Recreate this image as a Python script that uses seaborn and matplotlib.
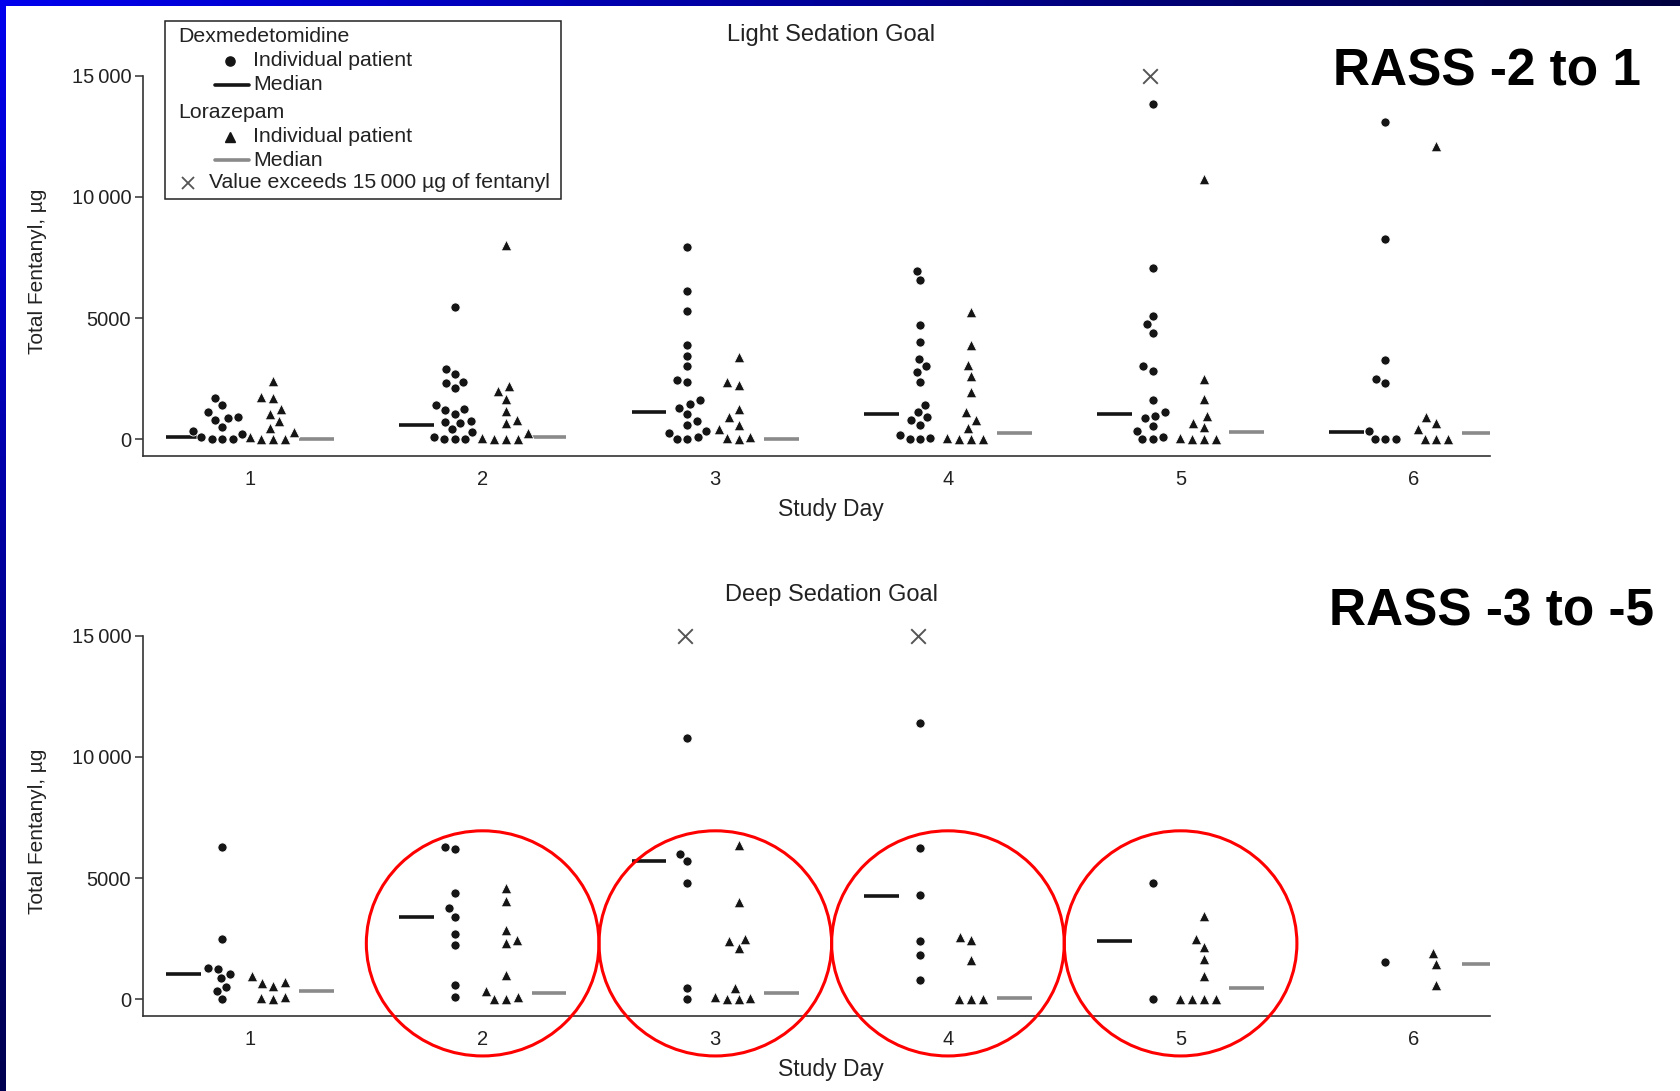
import numpy as np
import pandas as pd
import matplotlib
matplotlib.use('Agg')
import matplotlib.pyplot as plt
import seaborn as sns
from matplotlib.patches import Ellipse, Rectangle
from matplotlib.lines import Line2D
from matplotlib.colors import LinearSegmentedColormap
from matplotlib.ticker import FuncFormatter

sns.set_style('white')
plt.rcParams['font.family'] = ['Liberation Sans', 'DejaVu Sans']

days = [1, 2, 3, 4, 5, 6]

# Light sedation goal (RASS -2 to 1), total fentanyl per patient, ug
light_dex = [
    [1700, 1400, 1100, 900, 850, 800, 500, 350, 200, 100, 0, 0, 0],
    [5450, 2900, 2700, 2350, 2300, 2100, 1400, 1250, 1200, 1050, 750, 700, 650, 400, 300, 100, 0, 0, 0],
    [7950, 6100, 5300, 3900, 3450, 3000, 2450, 2350, 1600, 1450, 1300, 1050, 750, 600, 350, 250, 100, 0, 0],
    [6950, 6550, 4700, 4000, 3300, 3000, 2750, 2350, 1400, 1100, 900, 800, 600, 150, 50, 0, 0],
    [13850, 7050, 5100, 4750, 4400, 3000, 2800, 1600, 1100, 950, 850, 550, 350, 100, 0, 0],
    [13100, 8250, 3250, 2500, 2300, 350, 0, 0, 0],
]
light_lor = [
    [2400, 1750, 1700, 1250, 1050, 750, 450, 300, 100, 0, 0, 0],
    [8000, 2200, 2000, 1650, 1150, 800, 650, 250, 50, 0, 0, 0],
    [3400, 2350, 2250, 1250, 900, 600, 400, 100, 50, 0],
    [5250, 3900, 3050, 2600, 1950, 1100, 800, 450, 50, 0, 0, 0],
    [10750, 2500, 1650, 950, 650, 500, 50, 0, 0, 0],
    [12100, 900, 650, 400, 0, 0, 0],
]
light_dex_median = [100, 600, 1100, 1050, 1050, 300]
light_lor_median = [0, 100, 0, 250, 300, 250]
light_over = [5]          # days with a dexmedetomidine value > 15000

# Deep sedation goal (RASS -3 to -5)
deep_dex = [
    [6300, 2500, 1300, 1250, 1050, 850, 500, 350, 0],
    [6300, 6200, 4400, 3750, 3400, 2700, 2250, 600, 100],
    [10800, 6000, 5700, 4800, 450, 0],
    [11400, 6250, 4300, 2400, 1800, 800],
    [4800, 0],
    [1550],
]
deep_lor = [
    [950, 700, 650, 550, 100, 50, 0],
    [4600, 4050, 2850, 2450, 2300, 1000, 350, 100, 0, 0],
    [6350, 4000, 2500, 2400, 2100, 450, 100, 50, 0, 0],
    [2550, 2450, 1600, 0, 0, 0],
    [3450, 2500, 2150, 1650, 950, 0, 0, 0, 0],
    [1900, 1450, 600],
]
deep_dex_median = [1050, 3400, 5700, 4250, 2400, np.nan]
deep_lor_median = [330, 250, 250, 50, 450, 1450]
deep_over = [3, 4]
highlight_days = [2, 3, 4, 5]

W, H = 1681, 1091
fig = plt.figure(figsize=(W / 100, H / 100), dpi=100)


def long_table(groups, offset):
    rows = [(d + offset, v) for d, vals in zip(days, groups) for v in vals]
    return pd.DataFrame(rows, columns=['pos', 'fentanyl'])


def fmt(v, pos):
    v = int(round(v))
    return '{:,}'.format(v).replace(',', '\u2009') if v >= 10000 else str(v)


def panel(ax, dex, lor, dex_med, lor_med, over, title):
    ax.set_xlim(0.54, 6.33)
    ax.set_ylim(-700, 15700)
    sns.swarmplot(data=long_table(dex, -0.12), x='pos', y='fentanyl', native_scale=True,
                  orient='x', marker='o', color='#151515', size=6.6, linewidth=0.6,
                  edgecolor='white', ax=ax, zorder=3)
    sns.swarmplot(data=long_table(lor, 0.10), x='pos', y='fentanyl', native_scale=True,
                  orient='x', marker='^', color='#151515', size=7.6, linewidth=0.6,
                  edgecolor='white', ax=ax, zorder=3)
    d = np.array(days, dtype=float)
    ax.hlines(dex_med, d - 0.36, d - 0.21, color='#151515', lw=2.6, zorder=2)
    ax.hlines(lor_med, d + 0.21, d + 0.36, color='#8a8a8a', lw=2.6, zorder=2)
    sns.scatterplot(x=np.array(over) - 0.13, y=[15000] * len(over), marker='x', s=110,
                    color='#555555', linewidth=1.4, ax=ax, zorder=4)
    ax.set_xlim(0.54, 6.33)
    ax.set_ylim(-700, 15700)
    ax.spines[['top', 'right']].set_visible(False)
    ax.spines['left'].set_bounds(-700, 15000)
    for s in ['left', 'bottom']:
        ax.spines[s].set_color('#333333')
        ax.spines[s].set_linewidth(1.2)
    ax.set_xticks(days)
    ax.set_yticks([0, 5000, 10000, 15000])
    ax.yaxis.set_major_formatter(FuncFormatter(fmt))
    ax.tick_params(axis='x', length=0, pad=10, labelsize=14.5, colors='#222222')
    ax.tick_params(axis='y', left=True, length=5.5, width=1.1, color='#333333', pad=3,
                   labelsize=14.5, labelcolor='#222222')
    ax.set_xlabel('Study Day', fontsize=16.5, color='#222222')
    ax.xaxis.set_label_coords(0.511, -0.105)
    ax.set_ylabel('Total Fentanyl, \u00b5g', fontsize=15, color='#222222')
    ax.yaxis.set_label_coords(-0.071, 0.466)
    ax.text(0.511, 1.06, title, transform=ax.transAxes, ha='center', va='center',
            fontsize=17, color='#222222')


ax_top = fig.add_axes([143 / W, 1 - 456 / H, 1347 / W, 397 / H])
ax_bot = fig.add_axes([143 / W, 1 - 1016 / H, 1347 / W, 397 / H])
panel(ax_top, light_dex, light_lor, light_dex_median, light_lor_median, light_over,
      'Light Sedation Goal')
panel(ax_bot, deep_dex, deep_lor, deep_dex_median, deep_lor_median, deep_over,
      'Deep Sedation Goal')

for d in highlight_days:
    ax_bot.add_patch(Ellipse((d, 2300), 1.0, 9300, fill=False, ec='#ff0000', lw=2.2,
                             clip_on=False, zorder=5))

# legend box drawn by hand (headers are outdented)
fx = lambda x: x / W
fy = lambda y: 1 - y / H
fig.add_artist(Rectangle((fx(165), fy(199)), (561 - 165) / W, (199 - 21) / H,
                         transform=fig.transFigure, fill=False, ec='#222222', lw=1.1))
lg = dict(fontsize=15.3, va='center', color='#222222')
fig.text(fx(178), fy(36), 'Dexmedetomidine', **lg)
fig.add_artist(Line2D([fx(230)], [fy(61)], marker='o', ms=6.6, color='#151515',
                      transform=fig.transFigure))
fig.text(fx(253), fy(61), 'Individual patient', **lg)
fig.add_artist(Line2D([fx(215), fx(249)], [fy(85), fy(85)], lw=2.6, color='#151515',
                      transform=fig.transFigure))
fig.text(fx(253), fy(85), 'Median', **lg)
fig.text(fx(178), fy(113), 'Lorazepam', **lg)
fig.add_artist(Line2D([fx(230)], [fy(137)], marker='^', ms=7.6, color='#151515',
                      transform=fig.transFigure))
fig.text(fx(253), fy(137), 'Individual patient', **lg)
fig.add_artist(Line2D([fx(215), fx(249)], [fy(160), fy(160)], lw=2.6, color='#8a8a8a',
                      transform=fig.transFigure))
fig.text(fx(253), fy(160), 'Median', **lg)
fig.add_artist(Line2D([fx(188)], [fy(183)], marker='x', ms=9, mew=1.3, color='#555555',
                      transform=fig.transFigure))
fig.text(fx(209), fy(183), 'Value exceeds 15\u2009000 \u00b5g of fentanyl', **lg)

# slide labels
fig.text(fx(1487), fy(72), 'RASS -2 to 1', ha='center', va='center', fontsize=37,
         fontweight='bold', color='black')
fig.text(fx(1492), fy(612), 'RASS -3 to -5', ha='center', va='center', fontsize=37,
         fontweight='bold', color='black')

# slide frame: blue gradient strips on the left and top
edge = fig.add_axes([0, 0, 6 / W, 1])
edge.imshow(np.linspace(0, 1, 256)[:, None], aspect='auto',
            cmap=LinearSegmentedColormap.from_list('e', ['#0000ee', '#000050']))
edge.axis('off')
top = fig.add_axes([0, 1 - 6 / H, 1, 6 / H])
top.imshow(np.linspace(0, 1, 256)[None, :], aspect='auto',
           cmap=LinearSegmentedColormap.from_list('t', ['#0000ee', '#000040']))
top.axis('off')

fig.savefig('out.png', dpi=100)
